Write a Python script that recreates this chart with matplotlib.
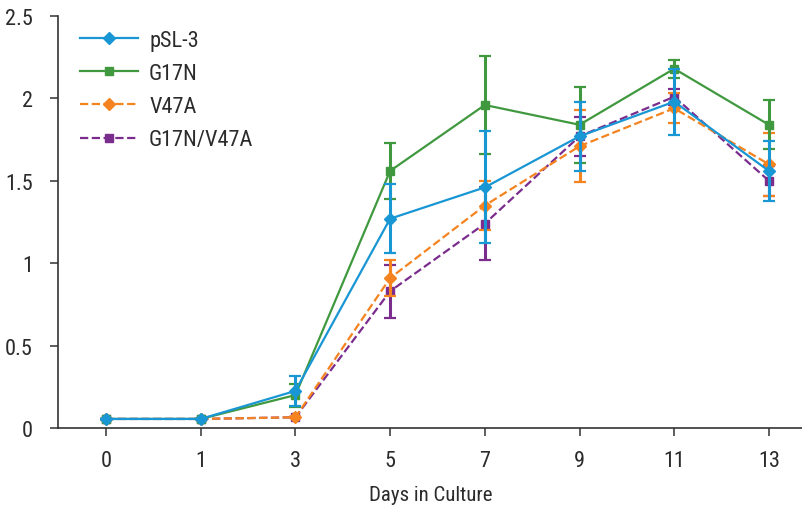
import matplotlib
matplotlib.use("Agg")
import matplotlib.pyplot as plt
from matplotlib.lines import Line2D
from matplotlib import font_manager
import numpy as np

days = ["0", "1", "3", "5", "7", "9", "11", "13"]
series_names = ["pSL-3", "G17N", "V47A", "G17N/V47A"]

psl3 = [0.055, 0.055, 0.225, 1.27, 1.46, 1.77, 1.98, 1.56]
psl3_err = [0.0, 0.0, 0.09, 0.21, 0.34, 0.21, 0.20, 0.18]
g17n = [0.055, 0.055, 0.20, 1.56, 1.96, 1.84, 2.18, 1.84]
g17n_err = [0.0, 0.0, 0.07, 0.17, 0.30, 0.23, 0.055, 0.15]
v47a = [0.055, 0.055, 0.065, 0.91, 1.35, 1.71, 1.94, 1.60]
v47a_err = [0.0, 0.0, 0.0, 0.11, 0.15, 0.22, 0.09, 0.19]
dbl = [0.055, 0.055, 0.065, 0.83, 1.24, 1.77, 2.01, 1.50]
dbl_err = [0.0, 0.0, 0.0, 0.16, 0.22, 0.12, 0.05, 0.09]

y_ticks = [0, 0.5, 1, 1.5, 2, 2.5]
y_ticklabels = ["0", "0.5", "1", "1.5", "2", "2.5"]

names = {f.name for f in font_manager.fontManager.ttflist}
fam = "Roboto Condensed" if "Roboto Condensed" in names else "Liberation Sans"
plt.rcParams['font.family'] = [fam, 'DejaVu Sans']

text_col = "#2b2b2b"
fig = plt.figure(figsize=(8.03, 5.10), dpi=100)
ax = fig.add_axes([58/803, 1-429/510, 1-58/803, (429-17)/510])

x = np.arange(len(days))
styles = [
    (psl3, psl3_err, "#1996d4", "D", "-", 4),
    (g17n, g17n_err, "#40993f", "s", "-", 3),
    (v47a, v47a_err, "#f5831f", "D", "--", 2),
    (dbl, dbl_err, "#7b2d8e", "s", "--", 1),
]
handles = []
for (vals, err, col, mk, ls, z), name in zip(styles, series_names):
    ax.errorbar(x, vals, yerr=err, color=col, marker=mk, markersize=6,
                linestyle=ls, linewidth=1.6, elinewidth=2.2, capsize=4.5,
                capthick=1.6, zorder=z)
    handles.append(Line2D([], [], color=col, marker=mk, markersize=6,
                          linestyle=ls, linewidth=1.6))

ax.set_xlim(-0.507, 7.36)
ax.set_ylim(0, 2.5)
ax.set_xticks(x)
ax.set_xticklabels(days)
ax.set_yticks(y_ticks)
ax.set_yticklabels(y_ticklabels)
for s in ["top", "right"]:
    ax.spines[s].set_visible(False)
for s in ["left", "bottom"]:
    ax.spines[s].set_color("#333333")
    ax.spines[s].set_linewidth(1.2)
ax.tick_params(axis="both", direction="out", length=6, width=1.1, color="#333333",
               labelsize=16, labelcolor=text_col)
ax.tick_params(axis="x", pad=10)
ax.tick_params(axis="y", pad=12)
ax.set_xlabel("Days in Culture", fontsize=15, color=text_col, labelpad=10)

leg = ax.legend(handles=handles, labels=series_names, loc="upper left",
                bbox_to_anchor=(0.003, 1.015), frameon=False, fontsize=16,
                handlelength=2.6, handletextpad=0.5, labelspacing=0.55)
for t in leg.get_texts():
    t.set_color(text_col)

fig.savefig("out.png", dpi=100)
